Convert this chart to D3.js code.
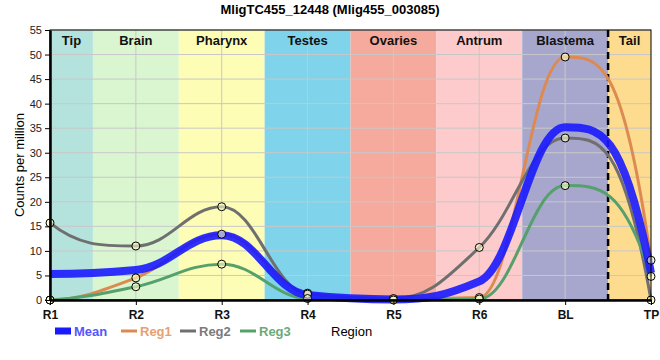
<!DOCTYPE html>
<html>
<head>
<meta charset="utf-8">
<script src="https://cdn.jsdelivr.net/npm/d3@7"></script>
<style>
  body { margin: 0; background: #fff; }
  text { font-family: "Liberation Sans", Arial, sans-serif; }
</style>
</head>
<body>
<div id="chart"></div>
<script>
// data
const regions = ["R1", "R2", "R3", "R4", "R5", "R6", "BL", "TP"];
const meanVals = [5.3, 6.1, 13.2, 1.0, 0.1, 3.8, 35.2, 5.5];
const reg1Vals = [0, 4.5, 13.4, 1.4, 0.2, 0.5, 49.5, 8.1];
const reg2Vals = [15.7, 11.0, 19.0, 1.2, 0.3, 10.7, 33.0, 0];
const reg3Vals = [0, 2.7, 7.3, 0.3, 0, 0.2, 23.3, 4.8];
const yTicks = [0, 5, 10, 15, 20, 25, 30, 35, 40, 45, 50, 55];

// tissue bands, start/end in category index units
const bandNames = ["Tip", "Brain", "Pharynx", "Testes", "Ovaries", "Antrum", "Blastema", "Tail"];
const bandStart = [0, 0.5, 1.5, 2.5, 3.5, 4.5, 5.5, 6.5];
const bandEnd = [0.5, 1.5, 2.5, 3.5, 4.5, 5.5, 6.5, 7];
const bandColors = ["#b3e3dc", "#d9f6d0", "#fefdb6", "#7fd3ea", "#f5aa9d", "#fdcbcb", "#a7a7ce", "#fddb8f"];

const width = 660, height = 360;
const margin = {top: 30, right: 9, bottom: 60, left: 50};

const svg = d3.select("#chart").append("svg")
  .attr("width", width).attr("height", height);

const x = d3.scaleLinear()
  .domain([0, regions.length - 1])
  .range([margin.left, width - margin.right]);
const y = d3.scaleLinear()
  .domain([0, 55])
  .range([height - margin.bottom, margin.top]);

// background bands
svg.append("g").selectAll("rect")
  .data(bandNames)
  .join("rect")
  .attr("x", (d, i) => x(bandStart[i]))
  .attr("y", y(55))
  .attr("width", (d, i) => x(bandEnd[i]) - x(bandStart[i]))
  .attr("height", y(0) - y(55))
  .attr("fill", (d, i) => bandColors[i]);

// grid
svg.append("g").selectAll("line")
  .data(yTicks.slice(1))
  .join("line")
  .attr("x1", x(0)).attr("x2", x(7))
  .attr("y1", d => y(d)).attr("y2", d => y(d))
  .attr("stroke", "#c8c8c8").attr("stroke-width", 1);
svg.append("g").selectAll("line")
  .data(d3.range(1, regions.length - 1))
  .join("line")
  .attr("x1", d => x(d)).attr("x2", d => x(d))
  .attr("y1", y(0)).attr("y2", y(55))
  .attr("stroke", "#c8c8c8").attr("stroke-width", 1);

// band labels
svg.append("g").selectAll("text")
  .data(bandNames)
  .join("text")
  .attr("x", (d, i) => (x(bandStart[i]) + x(bandEnd[i])) / 2)
  .attr("y", y(55) + 15)
  .attr("text-anchor", "middle")
  .attr("font-size", 13).attr("font-weight", "bold")
  .attr("fill", "#111")
  .text(d => d);

// dashed line between blastema and tail
svg.append("line")
  .attr("x1", x(6.5)).attr("x2", x(6.5))
  .attr("y1", y(55)).attr("y2", y(0) + 5)
  .attr("stroke", "#000").attr("stroke-width", 2.5)
  .attr("stroke-dasharray", "7,4");

// monotone cubic through the points, slightly longer handles than a
// plain hermite so plateaus look broader (like the original)
const handle = 0.4;
function smoothPath(vals) {
  const n = vals.length;
  const s = d3.range(n - 1).map(i => vals[i + 1] - vals[i]);
  const m = new Array(n).fill(0);
  for (let i = 1; i < n - 1; i++) {
    const a = s[i - 1], b = s[i];
    if (a * b <= 0) { m[i] = 0; continue; }
    const p = (a + b) / 2;
    m[i] = Math.sign(a) * 2 * Math.min(Math.abs(a), Math.abs(b), 0.5 * Math.abs(p));
  }
  m[0] = 3 * s[0] - 2 * m[1];
  if (m[0] * s[0] <= 0) m[0] = 0;
  m[n - 1] = 3 * s[n - 2] - 2 * m[n - 2];
  if (m[n - 1] * s[n - 2] <= 0) m[n - 1] = 0;
  const path = d3.path();
  path.moveTo(x(0), y(vals[0]));
  for (let i = 0; i < n - 1; i++) {
    // end segments keep the plain hermite handle
    const h0 = i === 0 ? 1 / 3 : handle;
    const h1 = i === n - 2 ? 1 / 3 : handle;
    path.bezierCurveTo(
      x(i + h0), y(vals[i] + m[i] * h0),
      x(i + 1 - h1), y(vals[i + 1] - m[i + 1] * h1),
      x(i + 1), y(vals[i + 1]));
  }
  return path.toString();
}

const series = [
  {name: "Reg1", vals: reg1Vals, color: "#dd8a52", w: 3},
  {name: "Reg2", vals: reg2Vals, color: "#6f6f6f", w: 3},
  {name: "Reg3", vals: reg3Vals, color: "#55a06b", w: 3}
];

series.forEach(s => {
  svg.append("path")
    .attr("d", smoothPath(s.vals))
    .attr("fill", "none")
    .attr("stroke", s.color)
    .attr("stroke-width", s.w);
});

svg.append("path")
  .attr("d", smoothPath(meanVals))
  .attr("fill", "none")
  .attr("stroke", "#1a1aff")
  .attr("stroke-opacity", 0.9)
  .attr("stroke-width", 8);

// point markers
series.forEach(s => {
  svg.append("g").selectAll("circle")
    .data(s.vals)
    .join("circle")
    .attr("cx", (d, i) => x(i))
    .attr("cy", d => y(d))
    .attr("r", 4)
    .attr("fill", "#ffffc8")
    .attr("fill-opacity", 0.6)
    .attr("stroke", "#000")
    .attr("stroke-width", 1);
});

// frame
svg.append("rect")
  .attr("x", x(0)).attr("y", y(55))
  .attr("width", x(7) - x(0)).attr("height", y(0) - y(55))
  .attr("fill", "none").attr("stroke", "#000").attr("stroke-width", 1);

// axes
const yAxis = svg.append("g")
  .attr("transform", `translate(${x(0)},0)`)
  .call(d3.axisLeft(y).tickValues(yTicks).tickSize(5).tickSizeOuter(0));
yAxis.select(".domain").attr("stroke-width", 2.5);
yAxis.selectAll("text").attr("font-size", 11).attr("fill", "#222")
  .attr("font-family", "'Liberation Sans', Arial, sans-serif");

const xAxis = svg.append("g")
  .attr("transform", `translate(0,${y(0)})`)
  .call(d3.axisBottom(x).ticks(8).tickFormat(i => regions[i]).tickSize(5).tickSizeOuter(0));
xAxis.select(".domain").attr("stroke-width", 2.5);
xAxis.selectAll("text").attr("font-size", 12).attr("font-weight", "bold")
  .attr("fill", "#111").attr("dy", "0.9em")
  .attr("font-family", "'Liberation Sans', Arial, sans-serif");

// title and axis labels
svg.append("text")
  .attr("x", 330).attr("y", 14)
  .attr("text-anchor", "middle")
  .attr("font-size", 13).attr("font-weight", "bold")
  .text("MligTC455_12448 (Mlig455_003085)");

svg.append("text")
  .attr("transform", `translate(24,${(y(0) + y(55)) / 2}) rotate(-90)`)
  .attr("text-anchor", "middle")
  .attr("font-size", 13)
  .text("Counts per million");

svg.append("text")
  .attr("x", 331).attr("y", 336)
  .attr("font-size", 13)
  .text("Region");

// legend
const legend = [
  {name: "Mean", color: "#1a1aff", text: "#5555ff", x0: 55, w: 7},
  {name: "Reg1", color: "#dd8a52", text: "#e8a070", x0: 121, w: 3},
  {name: "Reg2", color: "#6f6f6f", text: "#7a7a7a", x0: 180, w: 3},
  {name: "Reg3", color: "#55a06b", text: "#6aaa7a", x0: 240, w: 3}
];
const lg = svg.append("g").selectAll("g").data(legend).join("g")
  .attr("transform", d => `translate(${d.x0},331)`);
lg.append("line")
  .attr("x1", 0).attr("x2", 16)
  .attr("stroke", d => d.color)
  .attr("stroke-width", d => d.w);
lg.append("text")
  .attr("x", 19).attr("y", 5)
  .attr("font-size", 13).attr("font-weight", "bold")
  .attr("fill", d => d.text)
  .text(d => d.name);
</script>
</body>
</html>
